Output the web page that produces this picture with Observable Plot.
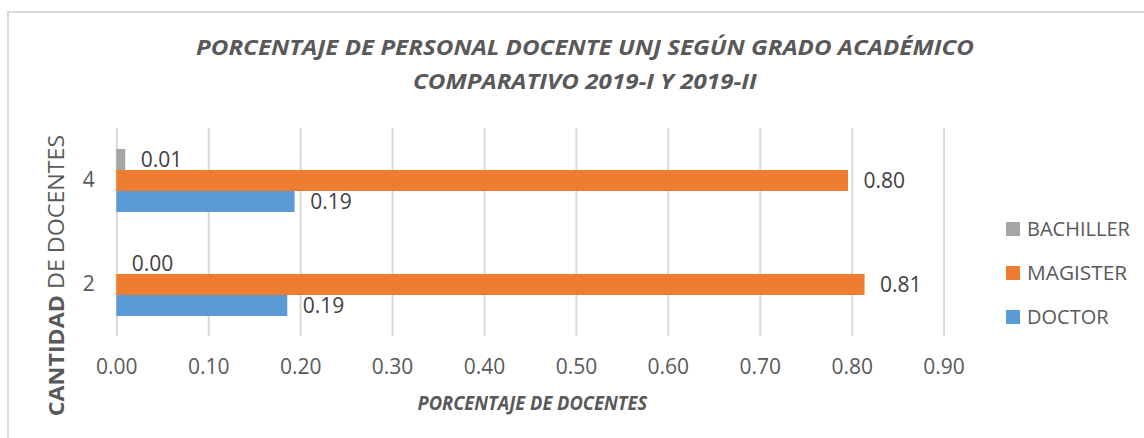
<!DOCTYPE html>
<html><head><meta charset="utf-8">
<script src="https://cdn.jsdelivr.net/npm/d3@7"></script>
<script src="https://cdn.jsdelivr.net/npm/@observablehq/plot@0.6"></script>
<style>
body{margin:0;background:#fff;}
#wrap{position:relative;width:1144px;height:438px;overflow:hidden;font-family:"Open Sans",sans-serif;background:#fff;}
#frame{position:absolute;left:7px;top:11px;width:1300px;height:600px;border:2px solid #d9d9d9;box-sizing:border-box;}
#chart{position:absolute;left:0;top:0;}
.t{position:absolute;white-space:nowrap;line-height:1;color:#595959;transform-origin:50% 50%;}
.sw{position:absolute;width:14px;height:14px;}
</style></head><body>
<div id="wrap"><div id="frame"></div><div id="chart"></div></div>
<script>
// ---- data ----
const categories = ["4", "2"];
const series = ["BACHILLER", "MAGISTER", "DOCTOR"];
const bachiller = [0.0097, 0.0];
const magister = [0.796, 0.814];
const doctor = [0.194, 0.186];
const xTicks = [0, 0.1, 0.2, 0.3, 0.4, 0.5, 0.6, 0.7, 0.8, 0.9];
const colors = ["#A5A5A5", "#ED7D31", "#5B9BD5"];
const titleLines = ["PORCENTAJE DE PERSONAL DOCENTE UNJ SEGÚN GRADO ACADÉMICO", "COMPARATIVO 2019-I Y 2019-II"];
const xTitle = "PORCENTAJE DE DOCENTES";
const yTitleBold = "CANTIDAD";
const yTitleRest = " DE DOCENTES";

const seriesValues = {BACHILLER: bachiller, MAGISTER: magister, DOCTOR: doctor};
const rows = categories.flatMap((c, i) => series.map(s => ({category: c, series: s, value: seriesValues[s][i]})));
const fmt = d3.format(".2f");

const chart = Plot.plot({
  width: 1144, height: 438,
  marginLeft: 116.3, marginRight: 200.4, marginTop: 128, marginBottom: 102,
  style: {fontFamily: "'Open Sans', sans-serif", fontSize: "21px", color: "#595959", background: "transparent"},
  x: {domain: [0, 0.9], ticks: xTicks, tickFormat: ".2f", tickSize: 0, tickPadding: 23, label: null},
  fy: {domain: categories, padding: 0, axis: "left", tickSize: 0, tickPadding: 22, label: null},
  y: {domain: series, paddingInner: 0, paddingOuter: 0.976, axis: null},
  color: {domain: series, range: colors},
  marks: [
    Plot.ruleX(xTicks, {stroke: "#d9d9d9", strokeWidth: 2}),
    Plot.barX(rows, {x: "value", y: "series", fy: "category", fill: "series"}),
    Plot.text(rows, {x: "value", y: "series", fy: "category", text: d => fmt(d.value), dx: 15, textAnchor: "start", fill: "#404040", fontSize: 21})
  ]
});
document.getElementById("chart").appendChild(chart);

const wrap = document.getElementById("wrap");
function addText(content, o) {
  const el = document.createElement("div");
  el.className = "t";
  if (o.html) el.innerHTML = content; else el.textContent = content;
  el.style.fontSize = o.fs + "px";
  el.style.fontWeight = o.bold ? "700" : "400";
  el.style.fontStyle = o.italic ? "italic" : "normal";
  if (o.color) el.style.color = o.color;
  wrap.appendChild(el);
  const w = el.offsetWidth, h = el.offsetHeight;
  const k = o.k !== undefined ? o.k : o.target / w;
  let cx = o.cx;
  if (o.left !== undefined) cx = o.left + w * k / 2;
  el.style.left = (cx - w / 2) + "px";
  el.style.top = (o.cy - h / 2) + "px";
  el.style.transform = (o.rotate ? "rotate(-90deg) " : "") + "scaleX(" + k + ")";
  return k;
}
// title
const kt = addText(titleLines[0], {fs: 21.5, bold: true, italic: true, target: 778, cx: 585, cy: 47});
addText(titleLines[1], {fs: 21.5, bold: true, italic: true, k: kt, cx: 585, cy: 80.5});
// x axis title
addText(xTitle, {fs: 19.5, bold: true, italic: true, target: 230, cx: 532, cy: 403});
// y axis title
addText("<b>" + yTitleBold + "</b>" + yTitleRest, {html: true, fs: 21, target: 282, cx: 56, cy: 275, rotate: true});
// legend
const legY = [228.5, 272.5, 317];
const legW = [103, 100, 82];
series.forEach((s, i) => {
  const sw = document.createElement("div");
  sw.className = "sw";
  sw.style.background = colors[i];
  sw.style.left = "1006px";
  sw.style.top = (legY[i] - 7) + "px";
  wrap.appendChild(sw);
  addText(s, {fs: 20, target: legW[i], left: 1027, cy: legY[i]});
});
</script>
</body></html>
